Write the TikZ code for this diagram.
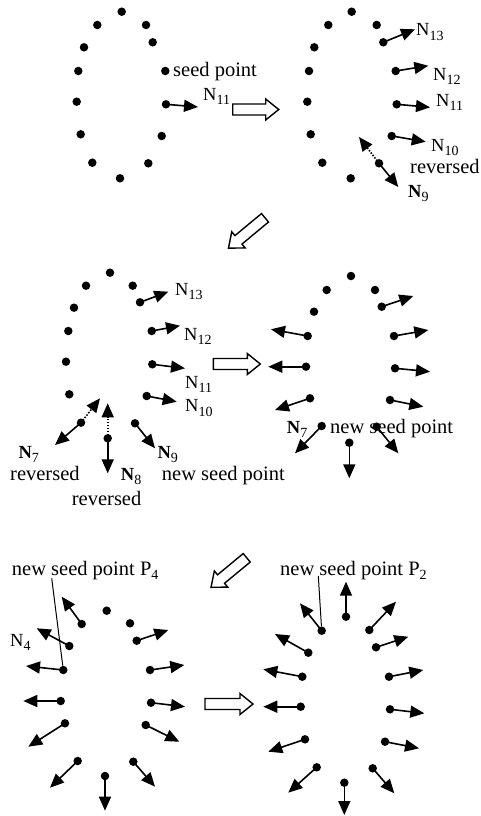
\documentclass[tikz,border=0pt]{standalone}
\usepackage{fontspec}
\setmainfont{Liberation Serif}
\usetikzlibrary{arrows.meta}
\newcommand\Nsub[2]{#1\raisebox{-4.5pt}{\fontsize{14}{14}\selectfont #2}}
\newcommand\Psub[2]{#1\raisebox{-4pt}{\fontsize{14}{14}\selectfont #2}}
\newcommand\hollowarrow[3]{%
  \begin{scope}[shift={#1},rotate=#2]
    \draw[hollow] (0,-5.5) -- ({#3-13},-5.5) -- ({#3-13},-10.5) -- (#3,0)
      -- ({#3-13},10.5) -- ({#3-13},5.5) -- (0,5.5) -- cycle;
  \end{scope}}
\begin{document}
\begin{tikzpicture}[x=1pt,y=-1pt,
  dot/.style={circle,fill=black,inner sep=0pt,minimum size=8.5pt},
  vec/.style={line width=1.6pt,-{Triangle[length=14pt,width=12pt]}},
  rev/.style={line width=1.6pt,dash pattern=on 1.5pt off 1.5pt,-{Triangle[length=14pt,width=12pt]}},
  hollow/.style={draw=black,line width=1.4pt,fill=white,line join=miter},
  txt/.style={inner sep=0pt,font=\fontsize{20.5}{20.5}\selectfont,anchor=base west},
  nlab/.style={inner sep=0pt,font=\fontsize{18.5}{18.5}\selectfont,anchor=base west},
  pointer/.style={line width=1pt}]
\useasboundingbox (0,0) rectangle (481,816);

% ---------- panel 1 ----------
\foreach \i/\x/\y in {1/121.7/11.7,2/97.3/25,3/146/25,4/152.7/42.3,5/84/47.3,
  6/78.3/71,7/165.3/71,8/76.7/101.7,9/166/104.3,10/80.7/134.3,11/161.7/136,
  12/92.3/162.7,13/148.3/163.3,14/120/178.3}
  \node[dot] (a\i) at (\x,\y) {};
\coordinate (a9-tip) at (198,107);
\draw[vec] (a9.center) -- (a9-tip);
\node[txt] (a-seed) at (173,77) {seed point};
\node[nlab] (a-n11) at (203,100) {\Nsub{N}{11}};

% ---------- panel 2 ----------
\foreach \i/\x/\y in {1/351.7/11.7,2/328.3/25,3/376.7/25,4/383.3/42.3,5/314.3/47.3,
  6/309/71,7/395.7/71,8/307.3/101.7,9/396.7/104.3,10/310.7/134.3,11/391.7/136,
  12/322.3/162.7,13/379/163.3,14/350.7/178.3}
  \node[dot] (b\i) at (\x,\y) {};
\foreach \i/\ex/\ey in {4/415/29.3,7/428.3/65.7,9/430/107.3,11/425.7/141.7,13/398.3/187}
  {\coordinate (b\i-tip) at (\ex,\ey); \draw[vec] (b\i.center) -- (b\i-tip);}
\coordinate (b13-rev) at (359,137);
\draw[rev] (b13.center) -- (b13-rev);
\node[nlab] (b-n13) at (416,36) {\Nsub{N}{13}};
\node[nlab] (b-n12) at (433,80) {\Nsub{N}{12}};
\node[nlab] (b-n11) at (436,106) {\Nsub{N}{11}};
\node[nlab] (b-n10) at (431,151) {\Nsub{N}{10}};
\node[txt] (b-rev) at (410,173) {reversed};
\node[nlab] (b-n9) at (408,197) {\Nsub{\textbf{N}}{9}};

% ---------- panel 3 ----------
\foreach \i/\x/\y in {1/110/272.7,2/86/285.7,3/132.7/285.7,4/140/302.3,5/74/307.7,
  6/68.3/331,7/151.7/331,8/66/361.7,9/152.3/364.3,10/69.3/394.3,11/146.7/396,
  12/81/422.7,13/135/423.3,14/107.7/438.3}
  \node[dot] (c\i) at (\x,\y) {};
\foreach \i/\ex/\ey in {4/168.3/291.7,7/180/325.7,9/185/368.3,11/176.7/401.7,
  12/55/445,13/155/448.3,14/107.7/473.3}
  {\coordinate (c\i-tip) at (\ex,\ey); \draw[vec] (c\i.center) -- (c\i-tip);}
\coordinate (c12-rev) at (100,398.3);
\coordinate (c14-rev) at (107.7,403.3);
\draw[rev] (c12.center) -- (c12-rev);
\draw[rev] (c14.center) -- (c14-rev);
\node[nlab] (c-n13) at (175,295) {\Nsub{N}{13}};
\node[nlab] (c-n12) at (184,340) {\Nsub{N}{12}};
\node[nlab] (c-n11) at (185,388) {\Nsub{N}{11}};
\node[nlab] (c-n10) at (185,411.7) {\Nsub{N}{10}};
\node[nlab] (c-n7) at (18.3,458) {\Nsub{\textbf{N}}{7}};
\node[nlab] (c-n9) at (157.3,458) {\Nsub{\textbf{N}}{9}};
\node[txt] (c-rev1) at (10,480) {reversed};
\node[nlab] (c-n8) at (120.7,480) {\Nsub{\textbf{N}}{8}};
\node[txt] (c-seed) at (161.7,480) {new seed point};
\node[txt] (c-rev2) at (71.7,505) {reversed};

% ---------- panel 4 ----------
\foreach \i/\x/\y in {1/351/276,2/326.7/290,3/375/290,4/381.7/306.7,5/314/311.7,
  6/307.7/336,7/394/336,8/306/366.7,9/395/368.3,10/310/398.3,11/390/400,
  12/321.7/426,13/376.7/426.7,14/349.3/442.7}
  \node[dot] (d\i) at (\x,\y) {};
\foreach \i/\ex/\ey in {4/413.3/296,6/271/329.3,7/428.3/330,8/268.3/366.7,
  9/430/371.7,10/275/410,11/423.3/406.7,12/295/453.3,13/398.3/453.3,14/349.3/478.3}
  {\coordinate (d\i-tip) at (\ex,\ey); \draw[vec] (d\i.center) -- (d\i-tip);}
\node[nlab] (d-n7) at (286.7,433) {\Nsub{\textbf{N}}{7}};
\node[txt] (d-seed) at (330,433) {new seed point};

% ---------- panel 5 ----------
\foreach \i/\x/\y in {1/106.7/610.7,2/81.7/624,3/130/623.3,4/136.7/640.7,5/69.3/646,
  6/63.3/670,7/150/670,8/60.7/701,9/151/702.7,10/65/723.3,11/145.7/725,
  12/77.7/761,13/133.3/761.7,14/105/776}
  \node[dot] (e\i) at (\x,\y) {};
\foreach \i/\ex/\ey in {2/61.7/596.7,4/168.3/630,5/36.7/628.3,6/26/666,7/184.3/665,
  8/23.3/701,9/185/706.7,10/28.3/746.7,11/179.3/741.7,12/50/787.7,13/155/786.7,
  14/105/810.7}
  {\coordinate (e\i-tip) at (\ex,\ey); \draw[vec] (e\i.center) -- (e\i-tip);}
\node[txt] (e-seed) at (11.7,575) {new seed point \Psub{P}{4}};
\coordinate (e-ptr) at (51.7,578.3);
\draw[pointer] (e-ptr) -- (e6);
\node[nlab] (e-n4) at (10,646) {\Nsub{N}{4}};

% ---------- panel 6 ----------
\foreach \i/\x/\y in {1/346/616.7,2/321.7/630.7,3/369.3/630,4/308.3/652.7,5/376/647.3,
  6/302.3/676.7,7/389/676.7,8/300.7/706.7,9/390/709.3,10/305/739.3,11/385/741.7,
  12/316.7/767.3,13/372.7/768.3,14/344.3/782.7}
  \node[dot] (f\i) at (\x,\y) {};
\foreach \i/\ex/\ey in {1/346/581.7,2/300/603.3,3/396/601.7,4/275/634,5/408.3/636.7,
  6/263.3/669.3,7/423.3/670,8/263.3/706.7,9/424.3/713.3,10/268.3/751.7,
  11/419/748.3,12/288.3/792.7,13/394.3/793.3,14/344.3/815}
  {\coordinate (f\i-tip) at (\ex,\ey); \draw[vec] (f\i.center) -- (f\i-tip);}
\node[txt] (f-seed) at (280,575) {new seed point \Psub{P}{2}};
\coordinate (f-ptr) at (318.3,576);
\draw[pointer] (f-ptr) -- (f2);

% ---------- hollow transition arrows ----------
\hollowarrow{(232.7,109.5)}{0}{46}
\hollowarrow{(265,217.8)}{219.7}{47.5}
\hollowarrow{(213.3,364)}{0}{47}
\hollowarrow{(246.7,557.8)}{219.6}{46.3}
\hollowarrow{(205,704)}{0}{48}
\end{tikzpicture}
\end{document}
